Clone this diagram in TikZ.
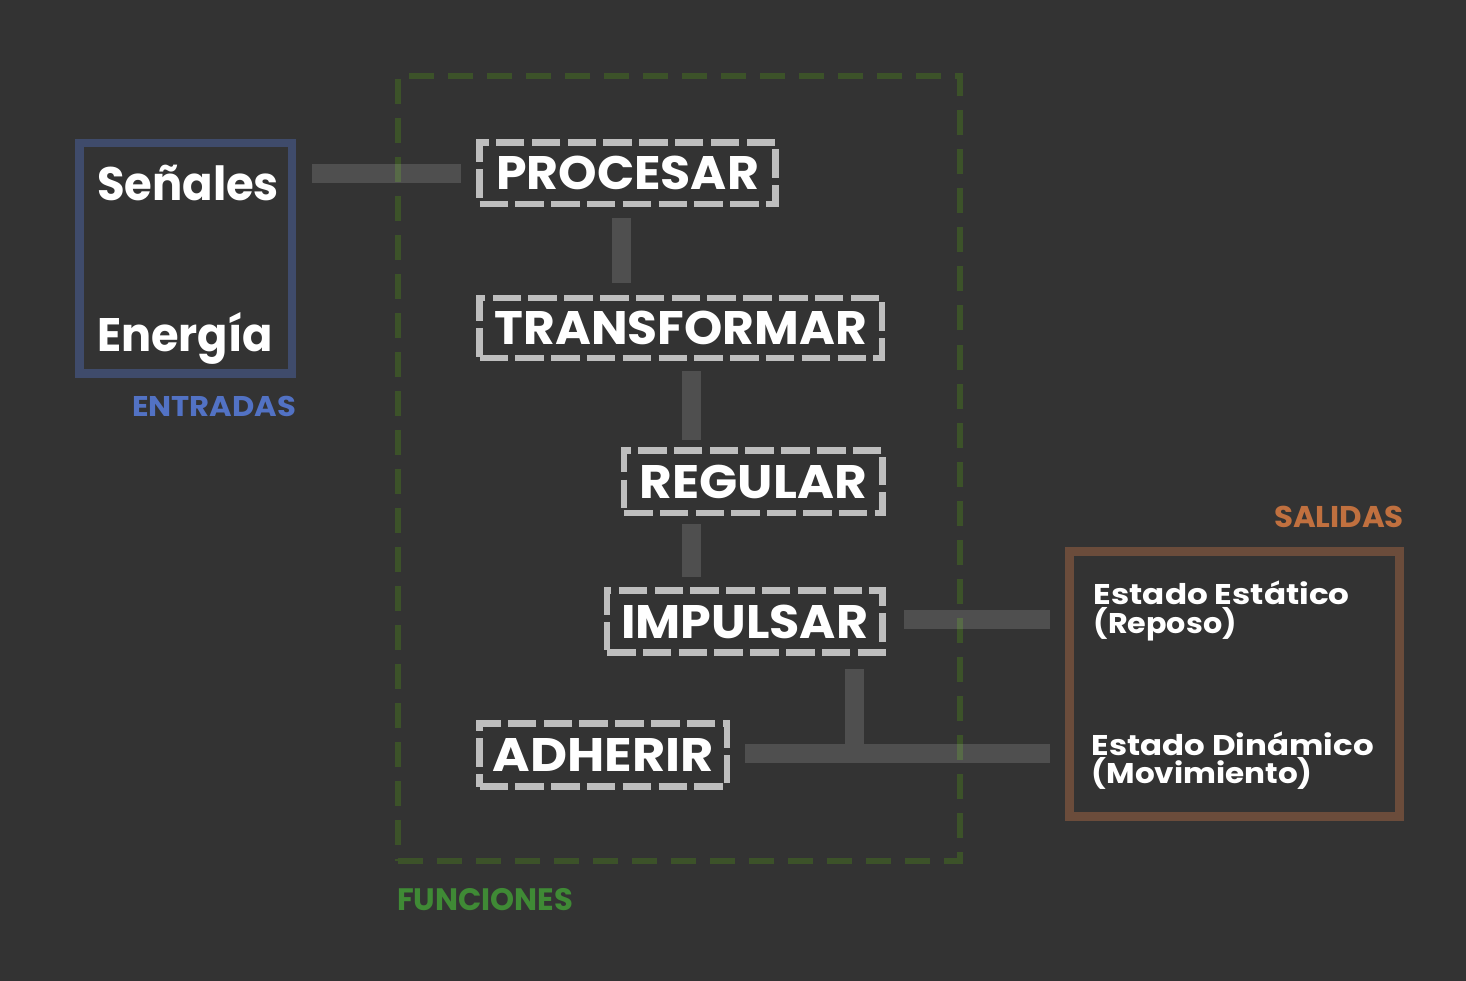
\documentclass[tikz,border=0pt]{standalone}
\usepackage{fontspec}
\setmainfont{Poppins}
\usetikzlibrary{calc}
\definecolor{bg}{HTML}{333333}
\definecolor{boxgray}{HTML}{BEBEBE}
\definecolor{funcgreen}{HTML}{3C5229}
\definecolor{funclabel}{HTML}{3F8A35}
\definecolor{entblue}{HTML}{3F4B6B}
\definecolor{entlabel}{HTML}{5272C4}
\definecolor{salbrown}{HTML}{6B4C3B}
\definecolor{sallabel}{HTML}{C0703F}
\newsavebox\fitbox
\newcommand\fitx[2]{\sbox\fitbox{#2}\pgfmathsetmacro\fitsx{#1/\the\wd\fitbox}\scalebox{\fitsx}[1]{\usebox\fitbox}}
\newcommand\twolines[2]{\vbox{\baselineskip=28.5pt\lineskiplimit=-20pt\lineskip=0pt\hbox{#1}\hbox{#2}}}
\begin{document}
\begin{tikzpicture}[x=1pt,y=-1pt,
  gbox/.style={draw=boxgray, line width=6.5pt, dash pattern=on 28.5pt off 7.3pt,
    inner sep=0pt, text=white, font=\fontsize{47}{50}\selectfont\bfseries},
  groupbox/.style={line width=8.5pt, inner sep=0pt},
  bigtxt/.style={inner sep=0pt, anchor=base, text=white, font=\fontsize{47}{50}\selectfont\bfseries},
  lbl/.style={inner sep=0pt, anchor=base, font=\fontsize{30}{32}\selectfont\bfseries},
  outtxt/.style={inner sep=0pt, anchor=base west, text=white, font=\fontsize{28.5}{30}\selectfont\bfseries},
  conn/.style={draw=white, draw opacity=0.14, line width=19pt, line cap=butt}
]
\useasboundingbox (0,0) rectangle (1466,981);
\fill[bg] (0,0) rectangle (1466,981);

% group boxes
\node[groupbox, draw=entblue, minimum width=212.5pt, minimum height=230.5pt] (ent) at (185.75,258.25) {};
\node[groupbox, draw=salbrown, minimum width=330pt, minimum height=265pt] (sal) at (1234.5,684) {};
\node[draw=funcgreen, line width=6pt, dash pattern=on 25pt off 14pt, inner sep=0pt,
      minimum width=561.5pt, minimum height=785pt] (fun) at (678.75,468.5) {};

% labels
\node[bigtxt] (sen) at (188,201) {\fitx{182}{Señales}};
\node[bigtxt] (ene) at (185,351) {\fitx{176}{Energía}};
\node[lbl, text=entlabel, font=\fontsize{28.5}{30}\selectfont\bfseries] (entl) at (214,416) {\fitx{164}{ENTRADAS}};
\node[lbl, text=funclabel, font=\fontsize{31}{33}\selectfont\bfseries] (funl) at (485,910) {\fitx{176}{FUNCIONES}};
\node[lbl, text=sallabel] (sall) at (1339,527) {\fitx{130}{SALIDAS}};

\node[outtxt] (est) at (1093.5,633) {\twolines{\fitx{256}{Estado Estático}}{\fitx{143}{(Reposo)}}};
\node[outtxt] (din) at (1091.5,783.5) {\twolines{\fitx{282}{Estado Dinámico}}{\fitx{221}{(Movimiento)}}};

% function boxes
\node[gbox, minimum width=296pt, minimum height=61.5pt] (proc) at (627.5,173.25) {\fitx{263}{PROCESAR}};
\node[gbox, minimum width=402.5pt, minimum height=60pt] (trans) at (680.75,328) {\fitx{372}{TRANSFORMAR}};
\node[gbox, minimum width=258.5pt, minimum height=62.5pt] (reg) at (753.25,481.75) {\fitx{227}{REGULAR}};
\node[gbox, minimum width=275.5pt, minimum height=62pt] (imp) at (744.75,621.5) {\fitx{247}{IMPULSAR}};
\node[gbox, minimum width=247.5pt, minimum height=63pt] (adh) at (603.25,755) {\fitx{221}{ADHERIR}};

% connectors
\draw[conn, shorten <=16pt, shorten >=15.5pt] (proc.west -| ent.east) -- (proc.west);
\draw[conn, shorten <=11pt, shorten >=12pt] ([xshift=-6pt]proc.south) -- ([xshift=-6pt]proc.south |- trans.north);
\draw[conn, shorten <=10pt, shorten >=7.5pt] ([xshift=10.75pt]trans.south) -- ([xshift=10.75pt]trans.south |- reg.north);
\draw[conn, shorten <=8pt, shorten >=10.5pt] ([xshift=10.75pt]trans.south |- reg.south) -- ([xshift=10.75pt]trans.south |- imp.north);
\draw[conn, shorten <=18.5pt, shorten >=15.25pt] ([yshift=2.5pt]imp.east) -- ([yshift=2.5pt]imp.east -| sal.west);
\draw[conn, shorten <=14.75pt, shorten >=15.25pt] ([yshift=1.5pt]adh.east) -- ([yshift=1.5pt]adh.east -| sal.west);
\draw[conn, shorten <=13.5pt, shorten >=11pt] ([xshift=109.75pt]imp.south) -- ([xshift=109.75pt]imp.south |- adh.east);
\end{tikzpicture}
\end{document}
